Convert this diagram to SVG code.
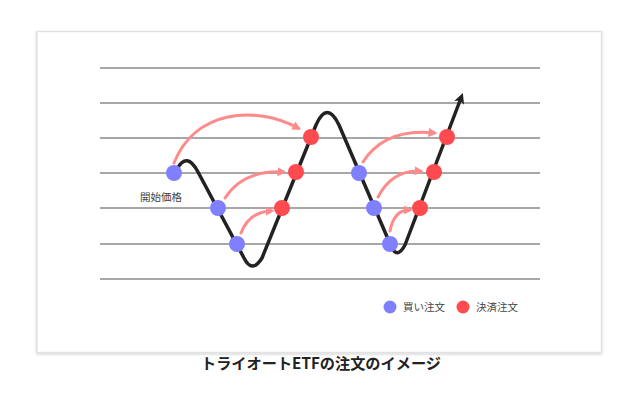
<svg xmlns="http://www.w3.org/2000/svg" width="639" height="396" viewBox="0 0 639 396">
<defs>
<style>
.grid line{stroke:#8a8a8a;stroke-width:1.3}
.buy{fill:#8080ff}
.sell{fill:#ff4a4f}
.arc{fill:none;stroke:#ff8a8a;stroke-width:3;stroke-linecap:round;marker-end:url(#pink)}
.txt{font-family:"Noto Sans CJK JP","Noto Sans",sans-serif;fill:#444}
</style>
<marker id="pink" viewBox="0 0 10 10" refX="6" refY="5" markerWidth="3" markerHeight="3" orient="auto" markerUnits="strokeWidth">
<path d="M0,0 L10,5 L0,10 z" fill="#ff8a8a"/>
</marker>
<marker id="blk" viewBox="0 0 10 10" refX="5" refY="5" markerWidth="3" markerHeight="3.2" orient="auto" markerUnits="strokeWidth">
<path d="M0,0 L10,5 L0,10 L2.5,5 z" fill="#222"/>
</marker>
<filter id="sh" x="-5%" y="-5%" width="110%" height="110%">
<feDropShadow dx="0" dy="1" stdDeviation="1.2" flood-color="#000" flood-opacity="0.22"/>
</filter>
</defs>
<rect width="639" height="396" fill="#fff"/>
<rect x="37" y="31.5" width="564.5" height="321" fill="#fff" stroke="#e2e2e2" stroke-width="1.5" filter="url(#sh)"/>
<g class="grid">
<line x1="100" y1="68" x2="540" y2="68"/>
<line x1="100" y1="103" x2="540" y2="103"/>
<line x1="100" y1="138" x2="540" y2="138"/>
<line x1="100" y1="173" x2="540" y2="173"/>
<line x1="100" y1="208" x2="540" y2="208"/>
<line x1="100" y1="244" x2="540" y2="244"/>
<line x1="100" y1="279" x2="540" y2="279"/>
</g>
<g id="connectors">
<path id="price" d="M177,169 Q187,151 198,172 L244,258 Q252,274 262,258 L316,125 Q327,100 339,125 L391,246 Q397,260 405,245 L461,98" fill="none" stroke="#222" stroke-width="3.5" stroke-linejoin="round" stroke-linecap="round" marker-end="url(#blk)"/>
<path class="arc" d="M174,163 C195,110 255,105 298,128"/>
<path class="arc" d="M225,198 Q243,170 283,172"/>
<path class="arc" d="M241,233 Q249,212 271,211"/>
<path class="arc" d="M363,162 Q385,128 434,133"/>
<path class="arc" d="M378,197 Q392,170 420,171"/>
<path class="arc" d="M390,231 Q394,210 409,210"/>
</g>
<g id="buy1"><circle class="buy" cx="174" cy="173" r="8"/></g>
<g id="buy2"><circle class="buy" cx="218" cy="208" r="8"/></g>
<g id="buy3"><circle class="buy" cx="237" cy="244" r="8"/></g>
<g id="sell1"><circle class="sell" cx="282" cy="208" r="8"/></g>
<g id="sell2"><circle class="sell" cx="296" cy="172" r="8"/></g>
<g id="sell3"><circle class="sell" cx="311" cy="137" r="8"/></g>
<g id="buy4"><circle class="buy" cx="359" cy="173" r="8"/></g>
<g id="buy5"><circle class="buy" cx="374" cy="208" r="8"/></g>
<g id="buy6"><circle class="buy" cx="390" cy="244" r="8"/></g>
<g id="sell4"><circle class="sell" cx="420" cy="208" r="8"/></g>
<g id="sell5"><circle class="sell" cx="434" cy="172" r="8"/></g>
<g id="sell6"><circle class="sell" cx="447" cy="137" r="8"/></g>
<g id="start-label"><text class="txt" x="140" y="200.5" font-size="10.5">開始価格</text></g>
<g id="legend">
<circle class="buy" cx="390" cy="307" r="6.5"/>
<text class="txt" x="403" y="311" font-size="10.5">買い注文</text>
<circle class="sell" cx="463" cy="307" r="6.5"/>
<text class="txt" x="476" y="311" font-size="10.5">決済注文</text>
</g>
<g id="title"><text x="321" y="369" text-anchor="middle" font-family="Noto Sans CJK JP,Noto Sans,sans-serif" font-weight="bold" font-size="15.2" fill="#222">トライオートETFの注文のイメージ</text></g>
</svg>
